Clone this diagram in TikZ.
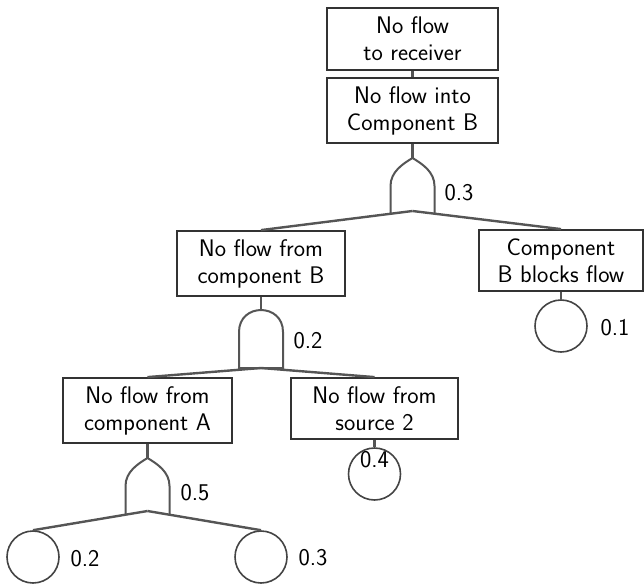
\documentclass[tikz,border=0pt]{standalone}
\definecolor{boxc}{HTML}{333333}
\definecolor{wirec}{HTML}{555555}
\definecolor{circc}{HTML}{444444}
\tikzset{
  txt/.style={font=\sffamily\fontsize{24}{27}\selectfont},
  box/.style={txt, draw=boxc, line width=1.8pt, fill=white, inner sep=0pt, align=center},
  wire/.style={draw=wirec, line width=2.4pt},
  gateline/.style={draw=wirec, line width=2pt},
  event/.style={circle, draw=circc, line width=1.6pt, minimum size=52pt, inner sep=0pt},
  prob/.style={txt, inner sep=0pt},
  % OR gate: tip at the origin, base 56 below
  orgate/.pic={
    \draw[gateline] (-22,56) -- (-22,28) .. controls (-22,14) and (-10,6) .. (0,0)
                    .. controls (10,6) and (22,14) .. (22,28) -- (22,56);
    \coordinate (-base) at (0,53);
  },
  % AND gate: dome top at the origin, flat base 58 below
  andgate/.pic={
    \draw[gateline] (-22,58) -- (-22,22) .. controls (-22,-7.3) and (22,-7.3) .. (22,22)
                    -- (22,58) -- cycle;
    \coordinate (-base) at (0,58);
  }
}
\begin{document}
\begin{tikzpicture}[x=1pt,y=-1pt]
  \useasboundingbox (0,0) rectangle (644,585);

  % events
  \node[box, minimum width=171pt, minimum height=62pt] (top) at (412.5,39) {No flow\\to receiver};
  \node[box, minimum width=171pt, minimum height=65pt] (intoB) at (412.5,110.5) {No flow into\\Component B};
  \node[box, minimum width=168pt, minimum height=65pt] (fromB) at (261,263.5) {No flow from\\component B};
  \node[box, minimum width=164pt, minimum height=61pt] (blocks) at (561,260.5) {Component\\B blocks flow};
  \node[box, minimum width=169pt, minimum height=65pt] (fromA) at (147.5,410.5) {No flow from\\component A};
  \node[box, minimum width=167pt, minimum height=61pt] (src2) at (374.5,408.5) {No flow from\\source 2};

  % gates
  \pic (or1) at (412.5,158) {orgate};
  \pic (and1) at (261,310) {andgate};
  \pic (or2) at (147.5,458) {orgate};

  % basic events
  \node[event] (c4) at (561,326) {};
  \node[event] (c3) at (374.5,474) {};
  \node[event] (c1) at (33,557) {};
  \node[event] (c2) at (261,557) {};

  % connectors
  \draw[wire] (top.south) -- (intoB.north);
  \draw[wire] (intoB.south) -- (412.5,158);
  \draw[wire] (or1-base) -- (fromB.north);
  \draw[wire] (or1-base) -- (blocks.north);
  \draw[wire] (fromB.south) -- (261,310);
  \draw[wire] (and1-base) -- (fromA.north);
  \draw[wire] (and1-base) -- (src2.north);
  \draw[wire] (fromA.south) -- (147.5,458);
  \draw[wire] (or2-base) -- (c1.north);
  \draw[wire] (or2-base) -- (c2.north);
  \draw[wire] (src2.south) -- (c3.north);
  \draw[wire] (blocks.south) -- (c4.north);

  % probabilities
  \node[prob] (p1) at (459,193) {0.3};
  \node[prob] (p2) at (308,341) {0.2};
  \node[prob] (p3) at (195,493) {0.5};
  \node[prob] (p4) at (615,328) {0.1};
  \node[prob] (p5) at (374.5,460) {0.4};
  \node[prob] (p6) at (85,559) {0.2};
  \node[prob] (p7) at (313,558) {0.3};
\end{tikzpicture}
\end{document}
